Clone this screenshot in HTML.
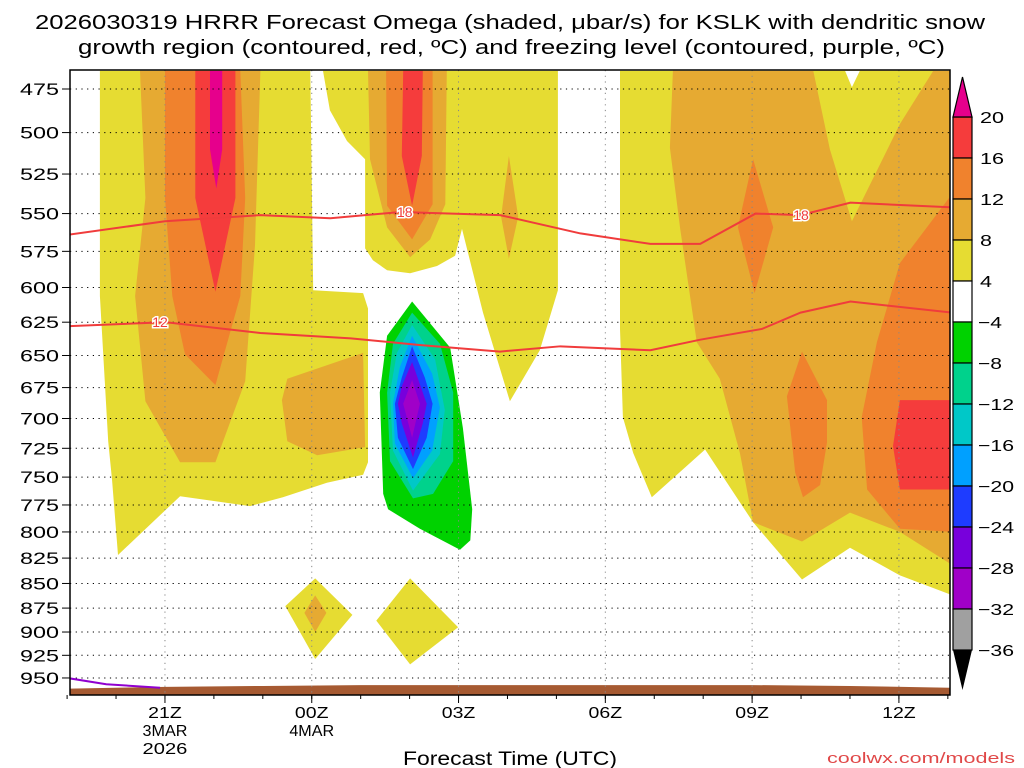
<!DOCTYPE html>
<html><head><meta charset="utf-8"><style>
body{margin:0;background:#fff;}
svg{display:block;font-family:"Liberation Sans",sans-serif;}
</style></head><body>
<svg id="chart" width="1024" height="768">
<text x="35" y="29" font-size="20" textLength="950" lengthAdjust="spacingAndGlyphs">2026030319 HRRR Forecast Omega (shaded, μbar/s) for KSLK with dendritic snow</text>
<text x="78" y="54" font-size="20" textLength="867" lengthAdjust="spacingAndGlyphs">growth region (contoured, red, ºC) and freezing level (contoured, purple, ºC)</text>
<defs><clipPath id="pc"><rect x="70" y="70" width="880" height="625"/></clipPath></defs>
<g id="fills" clip-path="url(#pc)"></g>
<g id="grid"></g>
<g id="lines" clip-path="url(#pc)"></g>
<rect x="70" y="70" width="880" height="625" fill="none" stroke="#000" stroke-width="1.5"/>
<g id="axes"></g>
<g id="cbar"></g>
<text x="403" y="765" font-size="19" textLength="214" lengthAdjust="spacingAndGlyphs">Forecast Time (UTC)</text>
<text x="827" y="763" font-size="15" fill="#e04848" textLength="188" lengthAdjust="spacingAndGlyphs">coolwx.com/models</text>
</svg>
<script>
const pressureTicks=[475,500,525,550,575,600,625,650,675,700,725,750,775,800,825,850,875,900,925,950];
const timeTickHours=[2,5,8,11,14,17];
const timeTickLabels=[["21Z","3MAR","2026"],["00Z","4MAR"],["03Z"],["06Z"],["09Z"],["12Z"]];
const cbarLevels=[20,16,12,8,4,-4,-8,-12,-16,-20,-24,-28,-32,-36];
const cbarColors=["#f53c3c","#f0822d","#e6aa32","#e6dc32","#ffffff","#00d200","#00d28c","#00c8c8","#00a0ff","#1e3cff","#7800dc","#a000c8","#a0a0a0"];
// shaded regions as polygons of [hour, hPa], drawn in level order
const yellowRegions=[
[[0.67,465],[4.97,465],[5.03,602],[6.05,604],[6.15,615],[6.15,737],[6.05,748],[5.31,755],[4.41,768],[3.74,776],[2.31,767],[1.04,822],[0.92,753],[0.84,719],[0.67,606]],
[[5.23,465],[10.03,465],[10.03,602],[9.66,646],[9.05,686],[8.5,618],[8.07,560],[7.93,578],[7.56,585],[7.01,590],[6.54,588],[6.25,581],[6.09,573],[6.09,516],[5.72,505],[5.37,487]],
[[11.3,465],[18.1,465],[18.1,862],[17.02,842],[16.0,815],[15.02,846],[14.02,791],[13.04,726],[11.95,768],[11.57,729],[11.36,699],[11.3,630]],
[[4.46,873],[5.07,845],[5.83,882],[5.07,929]],
[[6.32,888],[7.01,845],[7.99,895],[7.01,935]]];
const lightOrangeRegions=[
[[1.49,465],[3.95,465],[3.84,571],[3.64,670],[3.03,737],[2.31,737],[1.6,686],[1.39,606],[1.6,540]],
[[6.15,465],[7.76,465],[7.73,544],[7.42,567],[7.01,579],[6.54,559],[6.19,516]],
[[4.5,668],[6.05,648],[6.09,724],[5.11,731],[4.5,719],[4.39,685]],
[[9.03,514],[9.22,552],[9.03,580],[8.87,552]],
[[12.38,465],[18.1,465],[18.1,832],[17.02,800],[16.0,782],[15.02,809],[14.02,791],[13.75,729],[13.34,668],[12.87,640],[12.53,560],[12.32,509]],
[[5.07,862],[5.3,880],[5.07,900],[4.85,880]]];
const innerYellowRegions=[[[15.25,465],[15.59,510],[16.04,555],[17.02,495],[17.7,465]]];
const whiteRegions=[[[15.9,465],[16.04,474],[16.2,465]]];
const orangeRegions=[
[[2.0,465],[3.54,465],[3.64,540],[3.54,606],[3.03,673],[2.41,649],[2.15,606],[2.0,540]],
[[6.52,465],[7.47,465],[7.47,544],[7.05,567],[6.54,545]],
[[14.02,516],[14.43,559],[14.05,604],[13.71,559]],
[[18.1,537],[18.1,800],[17.02,797],[16.35,761],[16.24,699],[16.55,640],[17.02,583]],
[[15.02,647],[15.53,685],[15.53,720],[15.39,757],[15.04,768],[14.88,746],[14.71,682]]];
const redRegions=[
[[2.62,465],[3.44,465],[3.44,540],[3.03,603],[2.62,540]],
[[6.87,465],[7.27,465],[7.25,514],[7.05,545],[6.84,514]],
[[17.02,685],[18.1,685],[18.1,761],[17.02,761],[16.88,723]]];
const magentaRegions=[[[2.92,465],[3.17,465],[3.17,510],[3.05,534],[2.92,510]]];
const negColors=["#00d200","#00d28c","#00c8c8","#00a0ff","#1e3cff","#7800dc","#a000c8"];
const negRegions=[
[[7.05,610],[7.83,644],[8.09,708],[8.28,779],[8.24,808],[8.03,817],[7.21,797],[6.56,779],[6.46,765],[6.39,679],[6.54,635]],
[[7.05,618],[7.62,641],[7.89,679],[7.89,736],[7.48,765],[7.07,769],[6.6,736],[6.54,679],[6.66,641]],
[[7.05,627],[7.52,653],[7.72,693],[7.62,730],[7.07,762],[6.66,727],[6.6,679],[6.74,648]],
[[7.05,635],[7.46,664],[7.62,691],[7.46,727],[7.07,751],[6.7,721],[6.66,688],[6.8,659]],
[[7.05,643],[7.31,667],[7.47,688],[7.35,716],[7.07,743],[6.76,716],[6.7,688],[6.84,667]],
[[7.05,655],[7.27,679],[7.35,688],[7.27,704],[7.07,733],[6.84,704],[6.76,688],[6.84,674]],
[[7.05,669],[7.21,688],[7.05,716],[6.87,688]]];
const dgzTopHours=[0,2,3.95,5.38,6.81,8.85,10.49,11.92,12.94,14.07,14.99,16.01,18.1];
const dgzTopP=[564,555,551,553,549,551,563,570,570,550,551,543,546];
const dgzBotHours=[0,2,3.95,5.8,7.2,8.85,10.08,11.92,12.94,14.2,14.99,16.01,18.1];
const dgzBotP=[628,625,633,637,642,647,643,646,638,630,618,610,618];
const frzHours=[0,0.8,1.9];
const frzP=[950,957,961];
const sfcHours=[0,2,4,6,8,10,12,14,16,18.1];
const sfcP=[962,960,959,958,958,958,958,958,959,961];

const X=h=>67.1+48.93*h;
const Y=p=>89+849.7*Math.log(p/475);
const NS="http://www.w3.org/2000/svg";
function mk(parent,tag,attrs){const e=document.createElementNS(NS,tag);for(const k in attrs)e.setAttribute(k,attrs[k]);document.getElementById(parent).appendChild(e);return e;}
function pts(poly){return poly.map(q=>X(q[0]).toFixed(1)+","+Y(q[1]).toFixed(1)).join(" ");}
function drawSet(set,color,name){set.forEach((poly,i)=>{const e=mk("fills","polygon",{points:pts(poly),fill:color});

});}
drawSet(yellowRegions,"#e6dc32","omega-4-8");
drawSet(lightOrangeRegions,"#e6aa32","omega-8-12");
drawSet(innerYellowRegions,"#e6dc32","omega-4-8-inner");
drawSet(whiteRegions,"#ffffff","omega-below-4");
drawSet(orangeRegions,"#f0822d","omega-12-16");
drawSet(redRegions,"#f53c3c","omega-16-20");
drawSet(magentaRegions,"#e6008c","omega-gt20");
negRegions.forEach((poly,i)=>{const e=mk("fills","polygon",{points:pts(poly),fill:negColors[i]});

});
{let d="M"+X(sfcHours[0])+","+Y(sfcP[0]);for(let i=1;i<sfcHours.length;i++)d+=" L"+X(sfcHours[i])+","+Y(sfcP[i]);
d+=" L"+X(18.1)+",700 L"+X(0)+",700 Z";const e=mk("fills","path",{d:d,fill:"#a65a32"});

}
pressureTicks.forEach(p=>{const y=Y(p);
const g=mk("grid","line",{x1:70,x2:950,y1:y,y2:y,stroke:"#000","stroke-dasharray":"1.2,4.5","stroke-width":1});


const t=mk("axes","line",{x1:62,x2:70,y1:y,y2:y,stroke:"#000"});


const l=mk("axes","text",{x:20,y:y+6,"font-size":17,textLength:39,lengthAdjust:"spacingAndGlyphs"});l.textContent=p;

});
timeTickHours.forEach((h,i)=>{const x=X(h);
const g=mk("grid","line",{x1:x,x2:x,y1:70,y2:695,stroke:"#888","stroke-dasharray":"1.2,4.5","stroke-width":1});


const t=mk("axes","line",{x1:x,x2:x,y1:695,y2:703,stroke:"#000"});


timeTickLabels[i].forEach((s,j)=>{const w=s.length*11.2;const l=mk("axes","text",{x:x-w/2,y:718+j*18,"font-size":16,textLength:w,lengthAdjust:"spacingAndGlyphs"});l.textContent=s;

});});
for(let h=0;h<=18;h++){const t=mk("axes","line",{x1:X(h),x2:X(h),y1:695,y2:699,stroke:"#000"});

}
function line(hs,ps,color,name){const e=mk("lines","polyline",{points:hs.map((h,i)=>X(h)+","+Y(ps[i])).join(" "),fill:"none",stroke:color,"stroke-width":2});

}
line(dgzTopHours,dgzTopP,"#f03c3c","dgz-contour-minus18");
line(dgzBotHours,dgzBotP,"#f03c3c","dgz-contour-minus12");
line(frzHours,frzP,"#9000d0","freezing-level-contour");
[[6.9,549,"-18"],[15.0,551,"-18"],[1.9,625,"-12"]].forEach((c,i)=>{const l=mk("lines","text",{x:X(c[0]),y:Y(c[1])+5,"text-anchor":"middle","font-size":14,fill:"#f03c3c",stroke:"#fff","stroke-width":3,"paint-order":"stroke"});l.textContent=c[2].replace("-","");

});
const cbTop=117,cbStep=41,cx0=953,cx1=972;
cbarColors.forEach((c,i)=>{const r=mk("cbar","rect",{x:cx0,y:cbTop+i*cbStep,width:cx1-cx0,height:cbStep,fill:c,stroke:"#000","stroke-width":1.2});

});
{const t=mk("cbar","polygon",{points:`${cx0},${cbTop} ${cx1},${cbTop} ${(cx0+cx1)/2},77`,fill:"#e6008c",stroke:"#000","stroke-width":1.2});


const yb=cbTop+cbarColors.length*cbStep;
const b=mk("cbar","polygon",{points:`${cx0},${yb} ${cx1},${yb} ${(cx0+cx1)/2},690`,fill:"#000"});

}
cbarLevels.forEach((v,i)=>{const s=v<0?"\u2212"+(-v):String(v);const w=s.length*12;const l=mk("cbar","text",{x:v<0?978:980,y:cbTop+i*cbStep+6,"font-size":16,textLength:w,lengthAdjust:"spacingAndGlyphs"});l.textContent=s;

});
</script>
</body></html>
